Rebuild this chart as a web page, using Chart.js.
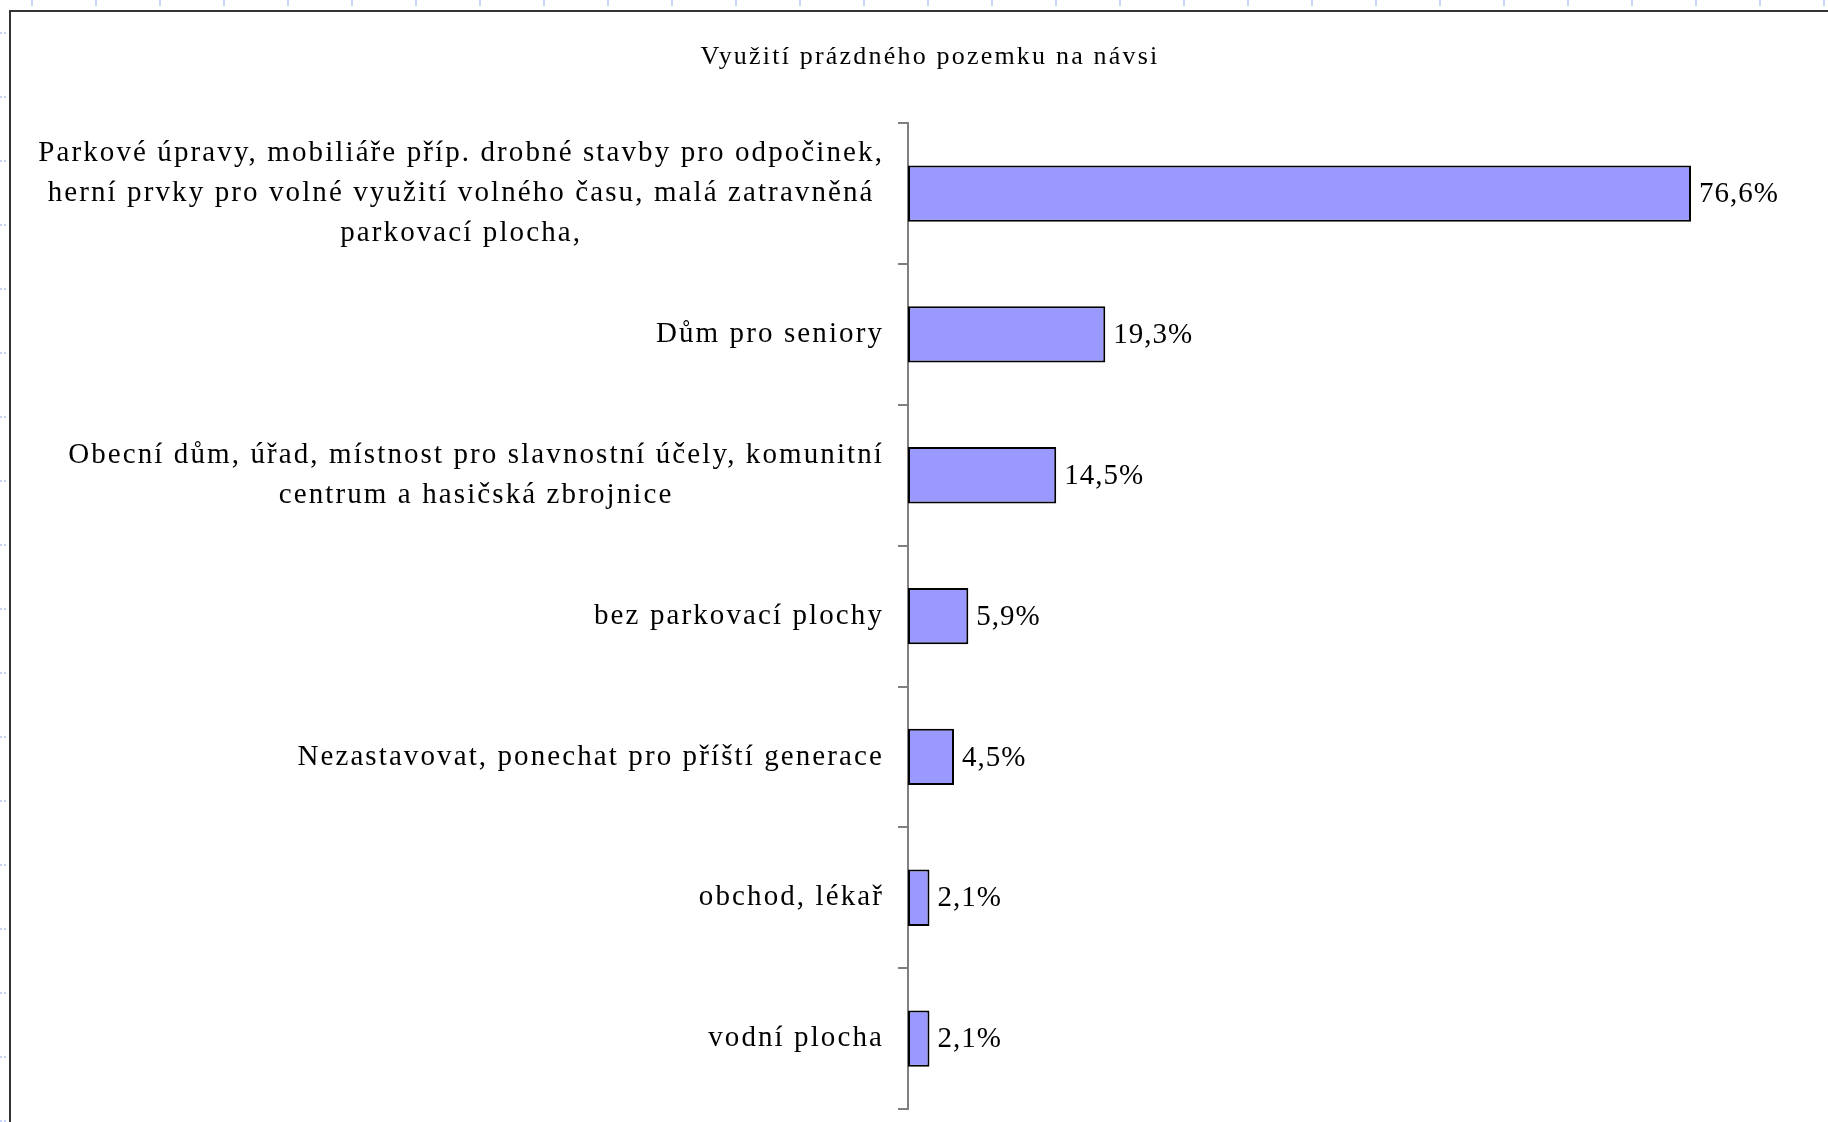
<!DOCTYPE html>
<html lang="cs">

<head>
  <meta charset="UTF-8">
  <title>Využití prázdného pozemku na návsi</title>
  <script src="https://cdn.jsdelivr.net/npm/chart.js@4"></script>
  <style>
    body { margin: 0; background: #fff; }
    canvas { display: block; }
  </style>
</head>

<body>
  <canvas id="graf" width="1828" height="1122"></canvas>

  <script>
    const nazev = 'Využití prázdného pozemku na návsi';

    const kategorie = [
      ['Parkové úpravy, mobiliáře příp. drobné stavby pro odpočinek,',
       'herní prvky pro volné využití volného času, malá zatravněná',
       'parkovací plocha,'],
      ['Dům pro seniory'],
      ['Obecní dům, úřad, místnost pro slavnostní účely, komunitní',
       'centrum a hasičská zbrojnice'],
      ['bez parkovací plochy'],
      ['Nezastavovat, ponechat pro příští generace'],
      ['obchod, lékař'],
      ['vodní plocha']
    ];

    const hodnoty = [76.6, 19.3, 14.5, 5.9, 4.5, 2.1, 2.1];

    const pismo = '"Liberation Serif", "Times New Roman", serif';

    const format = v => v.toFixed(1).replace('.', ',') + '%';

    // rámeček a modré značky po okraji
    const ramecek = {
      id: 'ramecek',
      beforeDraw(chart) {
        const c = chart.ctx;
        c.save();
        c.fillStyle = '#fff';
        c.fillRect(0, 0, chart.width, chart.height);
        c.fillStyle = '#c9d5f6';
        for (let y = 33; y < chart.height + 2; y += 64) {
          c.fillRect(0, y - 1, 2, 2);
          c.fillRect(4, y - 1, 2, 2);
        }
        for (let x = 32; x < chart.width; x += 64) {
          c.fillRect(x - 1, 0, 2, 6);
        }
        c.strokeStyle = '#333';
        c.lineWidth = 2;
        c.beginPath();
        c.moveTo(10, chart.height);
        c.lineTo(10, 11);
        c.lineTo(chart.width, 11);
        c.stroke();
        c.restore();
        c.letterSpacing = '2.2px';
      }
    };

    // popisky kategorií a hodnot
    const popisky = {
      id: 'popisky',
      afterDraw(chart) {
        const c = chart.ctx;
        const osaY = chart.scales.y;
        c.save();
        c.fillStyle = '#000';
        c.textBaseline = 'middle';
        c.font = '29px ' + pismo;

        c.letterSpacing = '2.1px';
        c.textAlign = 'center';
        chart.data.labels.forEach((radky, i) => {
          const w = Math.max(...radky.map(r => c.measureText(r).width));
          const cx = osaY.right - 24 - w / 2;
          const cy = osaY.getPixelForValue(i);
          radky.forEach((r, k) => {
            c.fillText(r, cx, cy + (k - (radky.length - 1) / 2) * 40);
          });
        });

        c.letterSpacing = '1px';
        c.textAlign = 'left';
        chart.getDatasetMeta(0).data.forEach((bar, i) => {
          c.fillText(format(chart.data.datasets[0].data[i]), bar.x + 8, bar.y + 1);
        });
        c.restore();
      }
    };

    new Chart(document.getElementById('graf'), {
      type: 'bar',
      data: {
        labels: kategorie,
        datasets: [{
          data: hodnoty,
          backgroundColor: '#9999ff',
          borderColor: '#000',
          borderWidth: 2,
          borderSkipped: false,
          barPercentage: 0.4,
          categoryPercentage: 1
        }]
      },
      options: {
        indexAxis: 'y',
        responsive: false,
        animation: false,
        layout: { padding: { left: 32, right: 0, top: 0, bottom: 13 } },
        scales: {
          x: { display: false, min: 0, max: 90 },
          y: {
            grid: {
              display: true,
              drawOnChartArea: false,
              drawTicks: true,
              tickLength: 10,
              color: '#808080',
              lineWidth: 2,
              offset: true
            },
            border: { display: true, color: '#808080', width: 2 },
            ticks: { display: false },
            afterFit(scale) { scale.width = 876; }
          }
        },
        plugins: {
          legend: { display: false },
          tooltip: { enabled: false },
          title: {
            display: true,
            text: nazev,
            color: '#000',
            font: { family: pismo, size: 26, weight: 'normal', lineHeight: 1.2 },
            padding: { top: 42, bottom: 50 }
          }
        }
      },
      plugins: [ramecek, popisky]
    });
  </script>
</body>

</html>
